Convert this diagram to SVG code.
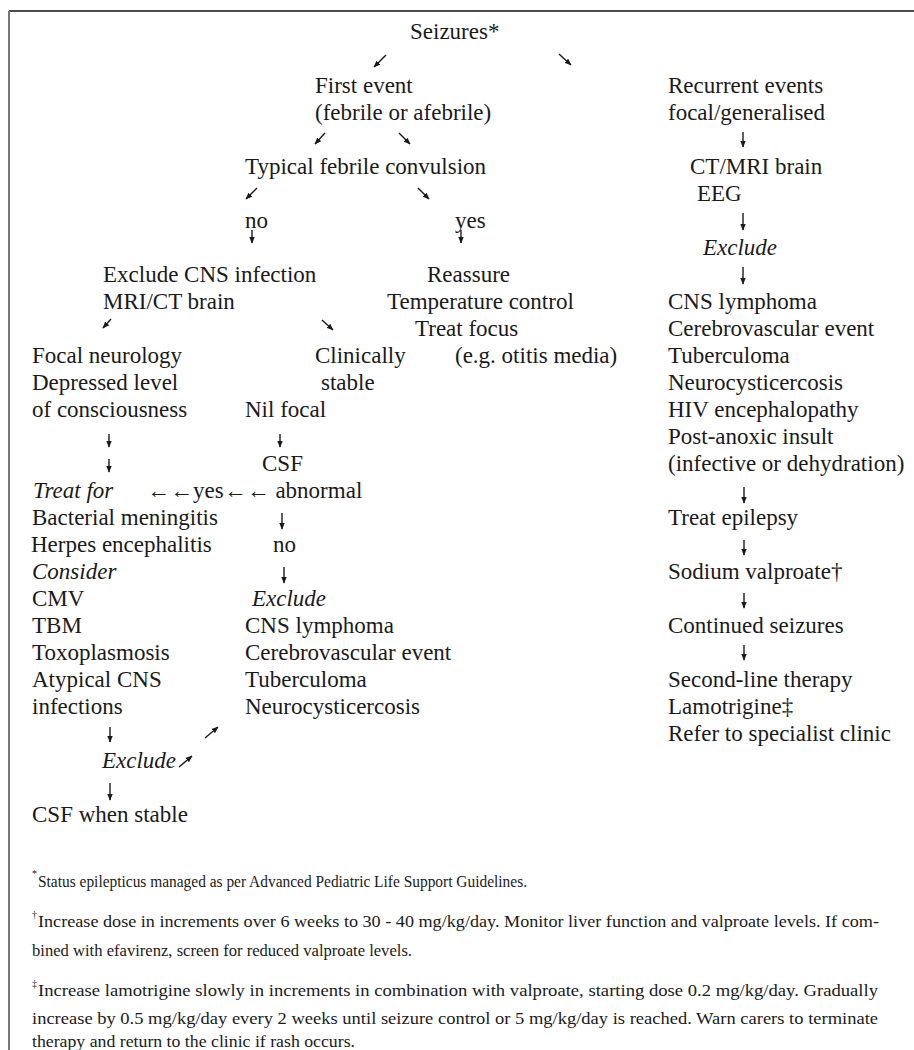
<svg xmlns="http://www.w3.org/2000/svg" width="914" height="1050" viewBox="0 0 914 1050">
<style>
text{font-family:"Liberation Serif","Times New Roman",serif;font-size:23px;fill:#1a1a1a}
.i{font-style:italic}
.fn{font-size:16.5px}
.sup{font-size:10px}
.c{stroke:#1a1a1a;stroke-width:1.4;fill:none;marker-end:url(#ah)}
</style>
<defs>
<marker id="ah" viewBox="0 0 10 10" refX="9" refY="5" markerWidth="5" markerHeight="5" orient="auto" markerUnits="strokeWidth">
<path d="M0,1 L10,5 L0,9 z" fill="#1a1a1a"/>
</marker>
</defs>
<rect width="914" height="1050" fill="#fff"/>
<line x1="9" y1="11" x2="914" y2="11" stroke="#111" stroke-width="1.5"/>
<line x1="9" y1="11" x2="9" y2="1050" stroke="#777" stroke-width="2"/>

<g id="n-seizures"><text x="410" y="39">Seizures*</text></g>
<g id="n-first"><text x="315" y="93">First event</text><text x="315" y="120">(febrile or afebrile)</text></g>
<g id="n-recurrent"><text x="668" y="93">Recurrent events</text><text x="668" y="120">focal/generalised</text></g>
<g id="n-typical"><text x="245" y="174">Typical febrile convulsion</text></g>
<g id="n-ctmri"><text x="690" y="174">CT/MRI brain</text><text x="697" y="201">EEG</text></g>
<g id="n-no"><text x="245" y="228">no</text></g>
<g id="n-yes"><text x="455" y="228">yes</text></g>
<g id="n-exclude-r"><text class="i" x="703" y="255">Exclude</text></g>
<g id="n-exclude-cns"><text x="103" y="282">Exclude CNS infection</text><text x="103" y="309">MRI/CT brain</text></g>
<g id="n-reassure"><text x="427" y="282">Reassure</text><text x="387" y="309">Temperature control</text><text x="415" y="336">Treat focus</text><text x="455" y="363">(e.g. otitis media)</text></g>
<g id="n-exclude-list-r"><text x="668" y="309">CNS lymphoma</text><text x="668" y="336">Cerebrovascular event</text><text x="668" y="363">Tuberculoma</text><text x="668" y="390">Neurocysticercosis</text><text x="668" y="417">HIV encephalopathy</text><text x="668" y="444">Post-anoxic insult</text><text x="668" y="471">(infective or dehydration)</text></g>
<g id="n-focal"><text x="32" y="363">Focal neurology</text><text x="32" y="390">Depressed level</text><text x="32" y="417">of consciousness</text></g>
<g id="n-stable"><text x="315" y="363">Clinically</text><text x="321" y="390">stable</text><text x="245" y="417">Nil focal</text></g>
<g id="n-csf"><text x="262" y="471">CSF</text></g>
<g id="n-treatfor"><text class="i" x="33" y="498">Treat for</text><text x="32" y="525">Bacterial meningitis</text><text x="31" y="552">Herpes encephalitis</text><text class="i" x="32" y="579">Consider</text><text x="32" y="606">CMV</text><text x="32" y="633">TBM</text><text x="32" y="660">Toxoplasmosis</text><text x="32" y="687">Atypical CNS</text><text x="32" y="714">infections</text></g>
<g id="n-abnormal"><text x="147" y="498">←←yes←← abnormal</text></g>
<g id="n-no2"><text x="273" y="552">no</text></g>
<g id="n-exclude-mid"><text class="i" x="252" y="606">Exclude</text><text x="245" y="633">CNS lymphoma</text><text x="245" y="660">Cerebrovascular event</text><text x="245" y="687">Tuberculoma</text><text x="245" y="714">Neurocysticercosis</text></g>
<g id="n-treat-epilepsy"><text x="668" y="525">Treat epilepsy</text></g>
<g id="n-valproate"><text x="668" y="579">Sodium valproate†</text></g>
<g id="n-continued"><text x="668" y="633">Continued seizures</text></g>
<g id="n-second"><text x="668" y="687">Second-line therapy</text><text x="668" y="714">Lamotrigine‡</text><text x="668" y="741">Refer to specialist clinic</text></g>
<g id="n-exclude-left"><text class="i" x="102" y="768">Exclude</text></g>
<g id="n-csf-stable"><text x="32" y="822">CSF when stable</text></g>

<g id="connectors">
<path class="c" d="M386,55 L374,67"/>
<path class="c" d="M559,54 L571,65"/>
<path class="c" d="M325,133 L315,144"/>
<path class="c" d="M399,133 L410,144"/>
<path class="c" d="M743,132 L743,147"/>
<path class="c" d="M257,188 L246,199"/>
<path class="c" d="M418,188 L429,199"/>
<path class="c" d="M252,230 L252,243"/>
<path class="c" d="M461,230 L461,243"/>
<path class="c" d="M743,213 L743,230"/>
<path class="c" d="M743,267 L743,284"/>
<path class="c" d="M111,319 L103,328"/>
<path class="c" d="M322,320 L333,330"/>
<path class="c" d="M109,434 L109,447"/>
<path class="c" d="M280,434 L280,447"/>
<path class="c" d="M109,459 L109,472"/>
<path class="c" d="M744,487 L744,503"/>
<path class="c" d="M282,513 L282,529"/>
<path class="c" d="M744,540 L744,555"/>
<path class="c" d="M284,567 L284,583"/>
<path class="c" d="M744,593 L744,608"/>
<path class="c" d="M744,645 L744,660"/>
<path class="c" d="M110,727 L110,742"/>
<path class="c" d="M205,738 L218,727"/>
<path class="c" d="M179,767 L192,756"/>
<path class="c" d="M110,783 L110,800"/>
</g>

<g id="footnotes">
<text class="sup" x="32" y="877">*</text>
<text class="fn" x="38" y="887" textLength="489" lengthAdjust="spacingAndGlyphs">Status epilepticus managed as per Advanced Pediatric Life Support Guidelines.</text>
<text class="sup" x="32" y="918">†</text>
<text class="fn" x="38" y="927" textLength="841" lengthAdjust="spacingAndGlyphs">Increase dose in increments over 6 weeks to 30 - 40 mg/kg/day. Monitor liver function and valproate levels. If com-</text>
<text class="fn" x="32" y="956" textLength="380" lengthAdjust="spacingAndGlyphs">bined with efavirenz, screen for reduced valproate levels.</text>
<text class="sup" x="32" y="987">‡</text>
<text class="fn" x="38" y="996" textLength="840" lengthAdjust="spacingAndGlyphs">Increase lamotrigine slowly in increments in combination with valproate, starting dose 0.2 mg/kg/day. Gradually</text>
<text class="fn" x="32" y="1024" textLength="846" lengthAdjust="spacingAndGlyphs">increase by 0.5 mg/kg/day every 2 weeks until seizure control or 5 mg/kg/day is reached. Warn carers to terminate</text>
<text class="fn" x="32" y="1047" textLength="323" lengthAdjust="spacingAndGlyphs">therapy and return to the clinic if rash occurs.</text>
</g>
</svg>
